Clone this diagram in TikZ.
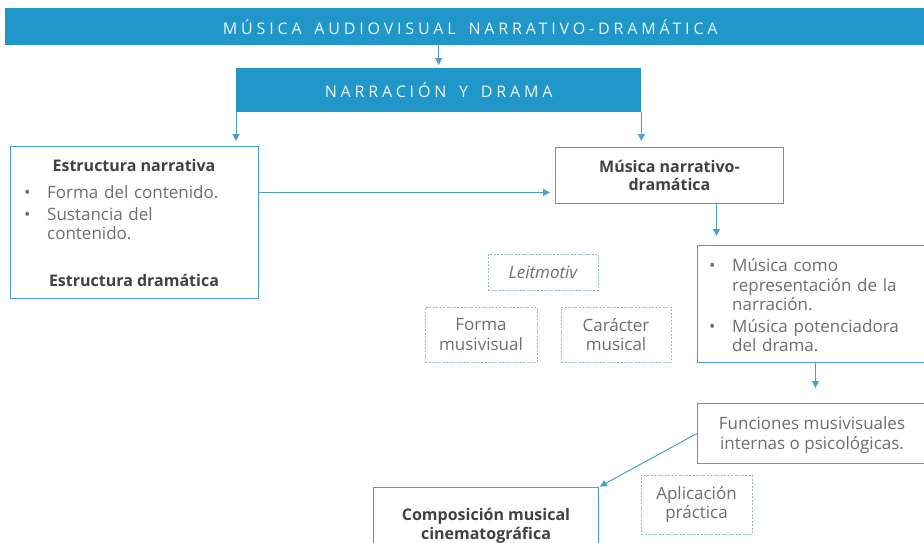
\documentclass[tikz,border=0pt]{standalone}
\usepackage{fontspec}
\setmainfont{Open Sans}
\newfontfamily\capsfont[LetterSpace=24, WordSpace=1.6]{Open Sans}
\usetikzlibrary{arrows.meta}
\definecolor{mavBlue}{RGB}{33,150,201}
\definecolor{mavLine}{RGB}{75,162,198}
\definecolor{mavDash}{RGB}{150,185,205}
\definecolor{mavText}{RGB}{110,110,110}
\definecolor{mavDark}{RGB}{65,65,65}
\newcommand{\itm}{\par\vspace{2pt}\noindent\hangindent=23pt\hangafter=1\makebox[23pt][l]{\textbullet}}

\begin{document}
\begin{tikzpicture}[x=1pt, y=-1pt, font=\fontsize{17}{19.5}\selectfont, text=mavText,
    banner/.style={fill=mavBlue, text=white!92!mavBlue, font=\capsfont\fontsize{16}{18}\selectfont, inner sep=0},
    solidbox/.style={draw=mavLine, line width=0.9pt, inner sep=0},
    dashbox/.style={draw=mavDash, dash pattern=on 2pt off 1.5pt, line width=0.7pt, align=center, inner sep=0},
    boldtxt/.style={font=\fontsize{16}{18.5}\selectfont\bfseries, text=mavDark},
    arr/.style={draw=mavLine, line width=1pt, -{Triangle[length=7pt, width=7pt]}}]
  \clip (0,0) rectangle (924,542);
  \fill[white] (0,0) rectangle (924,542);
  % header boxes
  \node[banner, anchor=north west, minimum width=930, minimum height=37] (mav) at (5,8) {MÚSICA AUDIOVISUAL NARRATIVO-DRAMÁTICA};
  \node[banner, anchor=north west, minimum width=405, minimum height=44] (nyd) at (236,68) {NARRACIÓN Y DRAMA};
  % left box
  \node[solidbox, anchor=north west, minimum width=248, minimum height=152] (narr) at (10,146) {};
  \node[boldtxt] (narrtit) at (134,165) {Estructura narrativa};
  \node[text width=225, anchor=north west, inner sep=0] (narrlist) at (24,177) {\itm Forma del contenido.\itm Sustancia del\newline contenido.\par};
  \node[boldtxt] (dramtit) at (134,280) {Estructura dramática};
  % right column
  \node[solidbox, boldtxt, anchor=north west, minimum width=228, minimum height=56, align=center] (mnd) at (555,147) {Música narrativo-\\dramática};
  \node[solidbox, anchor=north west, minimum width=250, minimum height=117] (mus) at (697,245) {};
  \node[text width=215, anchor=north west, inner sep=0] (muslist) at (709,250) {\itm Música como\newline representación de la\newline narración.\itm Música potenciadora\newline del drama.\par};
  \node[dashbox, minimum width=110, minimum height=36] (leit) at (543,272) {\itshape Leitmotiv};
  \node[dashbox, minimum width=112, minimum height=55] (forma) at (481,334.5) {Forma\\musivisual};
  \node[dashbox, minimum width=110, minimum height=55] (car) at (616,334.5) {Carácter\\musical};
  \node[solidbox, anchor=north west, minimum width=250, minimum height=60] (fun) at (697,403) {};
  \node[align=center] (funtxt) at (812,435) {Funciones musivisuales\\internas o psicológicas.};
  \node[dashbox, minimum width=111, minimum height=59] (apl) at (696.5,504.5) {Aplicación\\práctica};
  \node[solidbox, anchor=north west, minimum width=225, minimum height=80] (comp) at (373,487) {};
  \node[boldtxt, align=center] (comptxt) at (486,526) {Composición musical\\cinematográfica};
  % connectors
  \draw[arr, shorten >=3pt] (nyd.north |- mav.south) -- (nyd.north);
  \draw[arr, shorten >=5pt] (nyd.south west) -- (nyd.south west |- narr.north);
  \draw[arr, shorten >=6pt] (nyd.south east) -- (nyd.south east |- mnd.north);
  \draw[arr, shorten >=5pt] ([yshift=30pt]narr.east) -- ([yshift=30pt]narr.east -| mnd.west);
  \draw[arr, shorten >=9pt] ([xshift=47pt]mnd.south) -- ([xshift=47pt]mnd.south |- mus.north);
  \draw[arr, shorten >=15pt] ([xshift=-7pt]mus.south) -- ([xshift=-7pt]mus.south |- fun.north);
  \draw[arr, shorten >=1pt] (fun.west) -- (comp.north east);
\end{tikzpicture}
\end{document}
